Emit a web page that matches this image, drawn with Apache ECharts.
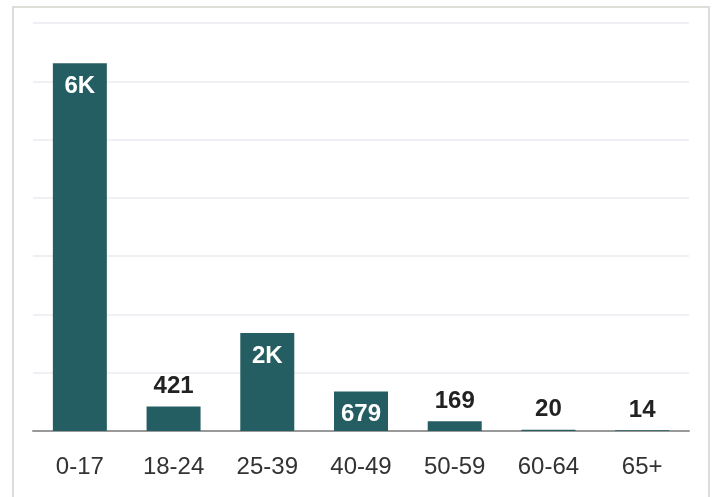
<!DOCTYPE html>
<html>
<head>
<meta charset="utf-8">
<script src="https://cdn.jsdelivr.net/npm/echarts@6/dist/echarts.min.js"></script>
<style>
html,body{margin:0;padding:0;background:#fff;}
#c{width:716px;height:497px;}
</style>
</head>
<body>
<div id="c"></div>
<script>
const categories = ['0-17', '18-24', '25-39', '40-49', '50-59', '60-64', '65+'];
const values = [6310, 421, 1680, 679, 169, 20, 14];
const labelInside = [true, false, true, true, false, false, false];

const fmt = v => v >= 1000 ? Math.round(v / 1000) + 'K' : String(v);

const chart = echarts.init(document.getElementById('c'), null, {renderer: 'canvas'});
chart.setOption({
  animation: false,
  backgroundColor: '#fff',
  graphic: [{
    type: 'rect',
    shape: {x: 13, y: 7, width: 696, height: 510},
    style: {fill: 'none', stroke: '#deddd8', lineWidth: 2},
    silent: true
  }],
  grid: {left: 33, right: 27, top: 23, bottom: 66, containLabel: false},
  xAxis: {
    type: 'category',
    data: categories,
    axisLine: {show: true, lineStyle: {color: '#999', width: 2}},
    axisTick: {show: false},
    axisLabel: {
      color: '#333',
      fontFamily: 'Liberation Sans, Arial, sans-serif',
      fontSize: 24,
      margin: 24
    }
  },
  yAxis: {
    type: 'value',
    min: 0,
    max: 7000,
    interval: 1000,
    axisLabel: {show: false},
    axisLine: {show: false},
    axisTick: {show: false},
    splitLine: {lineStyle: {color: '#e8ebef', width: 1.5}}
  },
  series: [{
    type: 'bar',
    barWidth: 54,
    itemStyle: {color: '#255e62'},
    data: values.map((v, i) => ({
      value: v,
      label: labelInside[i]
        ? {position: 'insideTop', distance: 11, color: '#fff'}
        : {position: 'top', distance: 8, color: '#222'}
    })),
    label: {
      show: true,
      fontFamily: 'Liberation Sans, Arial, sans-serif',
      fontSize: 24,
      fontWeight: 'bold',
      formatter: p => fmt(p.value)
    }
  }]
});
</script>
</body>
</html>
